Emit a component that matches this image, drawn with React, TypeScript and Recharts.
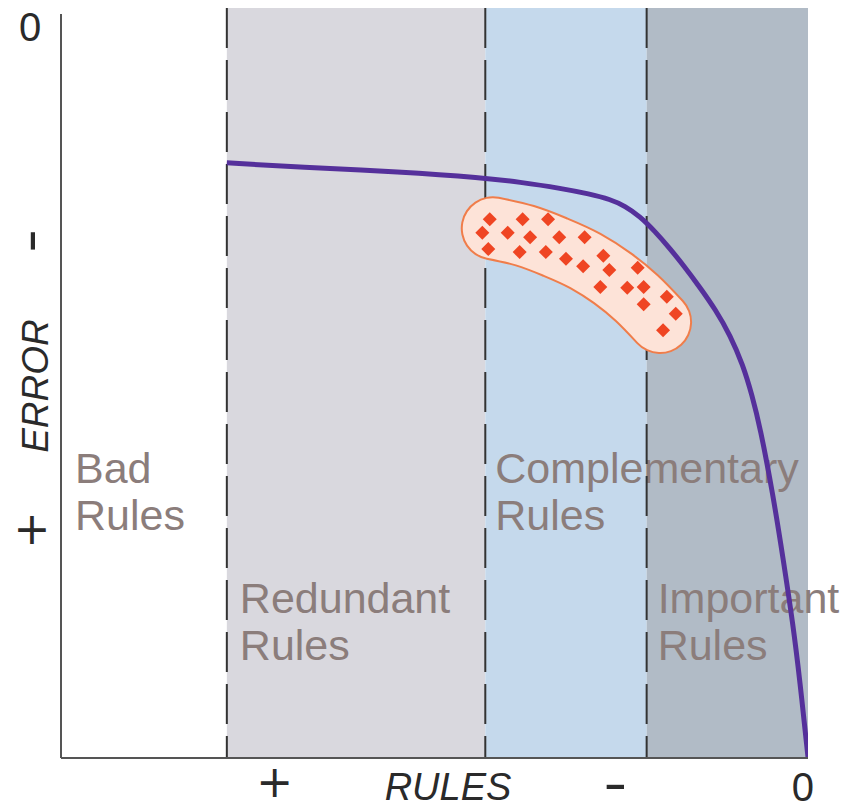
import React from 'react';
import { ComposedChart, Line, Scatter, XAxis, YAxis, ReferenceArea, ReferenceLine, Label } from 'recharts';

// Purple trade-off curve (x: rules, y: error; 0 error at the top)
const curveX = [22.2, 32.0, 45.4, 56.5, 61.4, 66.8, 70.8, 73.5, 75.5, 77.5, 79.5, 81.5, 83.5, 85.5, 87.6, 89.6, 91.3, 92.5, 93.6, 95.3, 96.7, 98.0, 98.9, 100];
const curveY = [20.0, 20.6, 21.2, 22.0, 22.6, 23.4, 24.2, 24.9, 25.8, 27.2, 29.2, 31.5, 34.0, 36.7, 39.7, 43.2, 47.2, 51.2, 55.6, 64.5, 73.4, 82.1, 89.5, 99.9];

// Centre line of the orange cluster outline
const blobX = [57.8, 62.1, 66.1, 70.2, 73.8, 77.1, 80.2];
const blobY = [28.8, 29.8, 31.3, 33.2, 35.5, 38.2, 41.4];

// Red points inside the cluster
const dotX = [57.4, 61.8, 65.2, 56.4, 59.8, 62.8, 66.7, 70.1, 57.2, 61.4, 64.9, 67.6, 69.9, 72.6, 73.4, 77.2, 72.2, 75.8, 78.0, 78.0, 81.1, 82.3, 80.6];
const dotY = [27.6, 27.6, 27.6, 29.4, 29.4, 30.0, 30.0, 30.0, 31.6, 32.0, 32.0, 32.9, 33.9, 32.5, 34.4, 34.1, 36.7, 36.8, 36.7, 39.0, 38.0, 40.3, 42.5];

// Regions
const regionBounds = [0, 22.2, 56.8, 78.4, 100];
const regionNames = [
  ['Bad', 'Rules'],
  ['Redundant', 'Rules'],
  ['Complementary', 'Rules'],
  ['Important', 'Rules'],
];
const dividerX = [22.2, 56.8, 78.4];

// Ticks
const xTickValues = [28.6, 74.2, 99.3];
const xTickLabels = ['+', '-', '0'];
const yTickValues = [1.75, 30.5, 69.1];
const yTickLabels = ['0', '-', '+'];
const xAxisTitle = 'RULES';
const yAxisTitle = 'ERROR';

const curveData = curveX.map((x, i) => ({ x, y: curveY[i] }));
const blobData = blobX.map((x, i) => ({ x, y: blobY[i] }));
const dotData = dotX.map((x, i) => ({ x, y: dotY[i] }));

const regionFills = ['none', '#d9d8de', '#c5d9ec', '#b1bbc6'];
const labelRowOffset = [475, 605, 475, 605];
const labelIndent = [14, 13, 10, 11];
const TOP_Y = -0.8;
const INK = '#2a2a2a';

const Glyph = ({ label, cx, cy, vertical }: { label: string; cx: number; cy: number; vertical?: boolean }) => {
  if (label === '-') {
    return (
      <g transform={`translate(${cx}, ${cy}) rotate(${vertical ? -90 : 0})`}>
        <text
          transform="scale(1.9, 1)"
          x={0}
          y={0}
          textAnchor="middle"
          dominantBaseline="central"
          fill={INK}
          fontFamily="Liberation Sans, Arial, sans-serif"
          fontWeight={700}
          fontSize={36}
        >
          -
        </text>
      </g>
    );
  }
  if (label === '+') {
    return (
      <text x={cx} y={cy} textAnchor="middle" dominantBaseline="central" fill={INK} fontFamily="DejaVu Sans" fontSize={44}>
        +
      </text>
    );
  }
  return (
    <text x={cx} y={cy} textAnchor="middle" dominantBaseline="central" fill={INK} fontFamily="Liberation Sans, Arial, sans-serif" fontSize={40}>
      {label}
    </text>
  );
};

const XTick = (props: any) => {
  const { x, payload } = props;
  const i = xTickValues.indexOf(payload.value);
  const label = xTickLabels[i] ?? '';
  const cy = label === '+' ? 781 : label === '-' ? 784 : 787;
  return <Glyph label={label} cx={x} cy={cy} />;
};

const YTick = (props: any) => {
  const { y, payload } = props;
  const i = yTickValues.indexOf(payload.value);
  const label = yTickLabels[i] ?? '';
  const cx = label === '+' ? 32 : 30;
  return <Glyph label={label} cx={cx} cy={y} vertical />;
};

const Diamond = (props: any) => {
  const { cx, cy } = props;
  const r = 7;
  return <path d={`M${cx},${cy - r}L${cx + r},${cy}L${cx},${cy + r}L${cx - r},${cy}Z`} fill="#ef4523" />;
};

const makeRegionText = (idx: number) => (props: any) => {
  const { x, y } = props;
  const names = regionNames[idx];
  const base = y + labelRowOffset[idx];
  const tx = x + labelIndent[idx];
  return (
    <text x={tx} y={base} fill="#8b7d7b" fontFamily="Liberation Sans, Arial, sans-serif" fontSize={43}>
      <tspan x={tx} y={base}>{names[0]}</tspan>
      <tspan x={tx} y={base + 47}>{names[1]}</tspan>
    </text>
  );
};

export default function App() {
  return (
    <div style={{ position: 'absolute', left: 0, top: 0, width: 849, height: 808, background: '#ffffff' }}>
      <ComposedChart width={849} height={808} margin={{ top: 14, right: 41, bottom: 0, left: 0 }}>
        <XAxis
          dataKey="x"
          type="number"
          domain={[0, 100]}
          ticks={xTickValues}
          interval={0}
          allowDataOverflow
          tick={<XTick />}
          tickLine={false}
          axisLine={{ stroke: '#555', strokeWidth: 2 }}
          height={50}
        >
          <Label
            content={(p: any) => {
              const vb = p.viewBox || { x: 61, y: 758 };
              return (
                <text
                  x={vb.x + 387}
                  y={vb.y + 29}
                  textAnchor="middle"
                  dominantBaseline="central"
                  fill={INK}
                  fontFamily="Liberation Sans, Arial, sans-serif"
                  fontStyle="italic"
                  fontSize={38}
                >
                  {xAxisTitle}
                </text>
              );
            }}
          />
        </XAxis>
        <YAxis
          dataKey="y"
          type="number"
          domain={[0, 100]}
          reversed
          ticks={yTickValues}
          interval={0}
          allowDataOverflow
          tick={<YTick />}
          tickLine={false}
          axisLine={{ stroke: '#555', strokeWidth: 2 }}
          width={61}
        >
          <Label
            content={(p: any) => {
              const vb = p.viewBox || { x: 0, y: 14, height: 744 };
              const cx = vb.x + 35;
              const cy = vb.y + vb.height / 2;
              return (
                <text
                  x={cx}
                  y={cy}
                  textAnchor="middle"
                  dominantBaseline="central"
                  fill={INK}
                  fontFamily="Liberation Sans, Arial, sans-serif"
                  fontStyle="italic"
                  fontSize={37}
                  transform={`rotate(-90, ${cx}, ${cy})`}
                >
                  {yAxisTitle}
                </text>
              );
            }}
          />
        </YAxis>

        {regionNames.map((_, i) =>
          regionFills[i] === 'none' ? null : (
            <ReferenceArea
              key={`bg-${i}`}
              x1={regionBounds[i]}
              x2={regionBounds[i + 1]}
              y1={TOP_Y}
              y2={100}
              fill={regionFills[i]}
              fillOpacity={1}
              stroke="none"
              ifOverflow="visible"
            />
          )
        )}
        {regionNames.map((_, i) => (
          <ReferenceArea
            key={`lbl-${i}`}
            x1={regionBounds[i]}
            x2={regionBounds[i + 1]}
            y1={TOP_Y}
            y2={100}
            fill="none"
            stroke="none"
            ifOverflow="visible"
            shape={makeRegionText(i)}
          />
        ))}
        {dividerX.map((x) => (
          <ReferenceLine
            key={`div-${x}`}
            segment={[{ x, y: TOP_Y }, { x, y: 100 }]}
            stroke="#333"
            strokeWidth={2}
            strokeDasharray="40 12"
            ifOverflow="visible"
          />
        ))}

        <Line
          data={blobData}
          dataKey="y"
          type="monotone"
          stroke="#f07d4a"
          strokeWidth={64}
          strokeLinecap="round"
          strokeLinejoin="round"
          dot={false}
          activeDot={false}
          isAnimationActive={false}
        />
        <Line
          data={blobData}
          dataKey="y"
          type="monotone"
          stroke="#fde3d8"
          strokeWidth={60}
          strokeLinecap="round"
          strokeLinejoin="round"
          dot={false}
          activeDot={false}
          isAnimationActive={false}
        />
        <Scatter data={dotData} dataKey="y" shape={<Diamond />} isAnimationActive={false} />
        <Line
          data={curveData}
          dataKey="y"
          type="basis"
          stroke="#55309b"
          strokeWidth={5}
          dot={false}
          activeDot={false}
          isAnimationActive={false}
        />
      </ComposedChart>
    </div>
  );
}
